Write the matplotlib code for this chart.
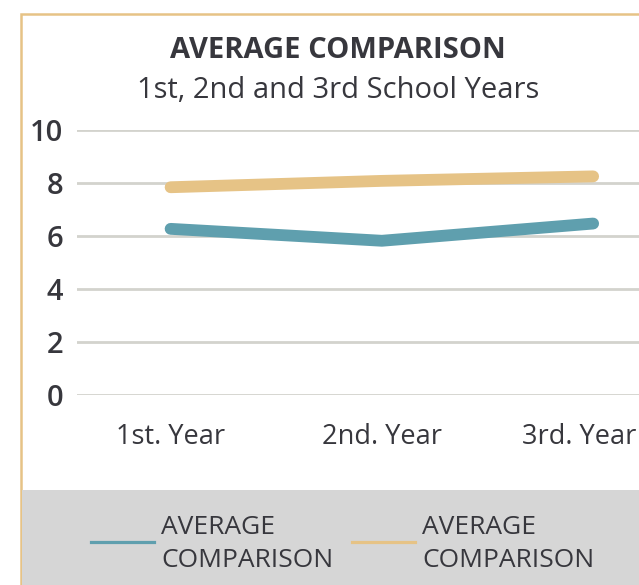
import matplotlib.pyplot as plt
import matplotlib.transforms as mtransforms
from matplotlib.patches import Rectangle
from matplotlib.lines import Line2D

plt.rcParams['font.family'] = ['Open Sans', 'DejaVu Sans']

years = ['1st. Year', '2nd. Year', '3rd. Year']
teal_values = [6.27, 5.82, 6.47]
gold_values = [7.84, 8.08, 8.25]
y_ticks = [0, 2, 4, 6, 8, 10]
series_label = 'AVERAGE\nCOMPARISON'

TEAL = '#5f9fae'
GOLD = '#e6c386'
TEXT = '#37373d'
GRID = '#d3d3cd'

W, H = 639, 585
fig = plt.figure(figsize=(W / 100, H / 100), dpi=100)
fig.patch.set_facecolor('white')

# frame and legend band
fig.add_artist(Rectangle((21 / W, -0.1), 1.2, 1.1 - 14 / H, transform=fig.transFigure,
                         facecolor='none', edgecolor=GOLD, linewidth=1.8))
fig.add_artist(Rectangle((22 / W, 0), 1, 95 / H, transform=fig.transFigure,
                         facecolor='#d6d6d6', edgecolor='none'))

fig.text(338 / W, 1 - 51 / H, 'AVERAGE COMPARISON', ha='center', va='center',
         fontsize=21, fontweight='bold', color=TEXT)
fig.text(338 / W, 1 - 90 / H, '1st, 2nd and 3rd School Years', ha='center', va='center',
         fontsize=21, color=TEXT)

ax = fig.add_axes([77 / W, 1 - 395 / H, 1 - 77 / W, (395 - 130) / H])
ax.set_xlim(-0.443, 2.217)
ax.set_ylim(0, 10)
for s in ax.spines.values():
    s.set_visible(False)
ax.set_yticks(y_ticks)
ax.yaxis.grid(True, color=GRID, linewidth=2)
ax.set_axisbelow(True)
ax.tick_params(length=0)
ax.tick_params(axis='y', pad=10, labelsize=21, labelcolor=TEXT)
ax.tick_params(axis='x', pad=20, labelsize=19.5, labelcolor=TEXT)
for lab in ax.get_yticklabels():
    lab.set_fontweight('semibold')

x = list(range(len(years)))
ax.set_xticks(x)
ax.set_xticklabels(years)
# last label is pulled in so it stays inside the frame
last = ax.get_xticklabels()[-1]
last.set_transform(last.get_transform() +
                   mtransforms.ScaledTranslation(-14 / 100, 0, fig.dpi_scale_trans))

ax.plot(x, teal_values, color=TEAL, linewidth=8.5, solid_capstyle='round',
        solid_joinstyle='miter', clip_on=False)
ax.plot(x, gold_values, color=GOLD, linewidth=8.5, solid_capstyle='round',
        solid_joinstyle='miter', clip_on=False)

# legend
for lx, color in [(91, TEAL), (352, GOLD)]:
    fig.add_artist(Line2D([lx / W, (lx + 63) / W], [1 - 542 / H, 1 - 542 / H],
                          color=color, linewidth=2.3, transform=fig.transFigure))
    fig.text((lx + 70) / W, 1 - 544 / H, series_label, ha='left', va='center',
             fontsize=19, color=TEXT, linespacing=1.38)

fig.savefig('out.png', dpi=100)
